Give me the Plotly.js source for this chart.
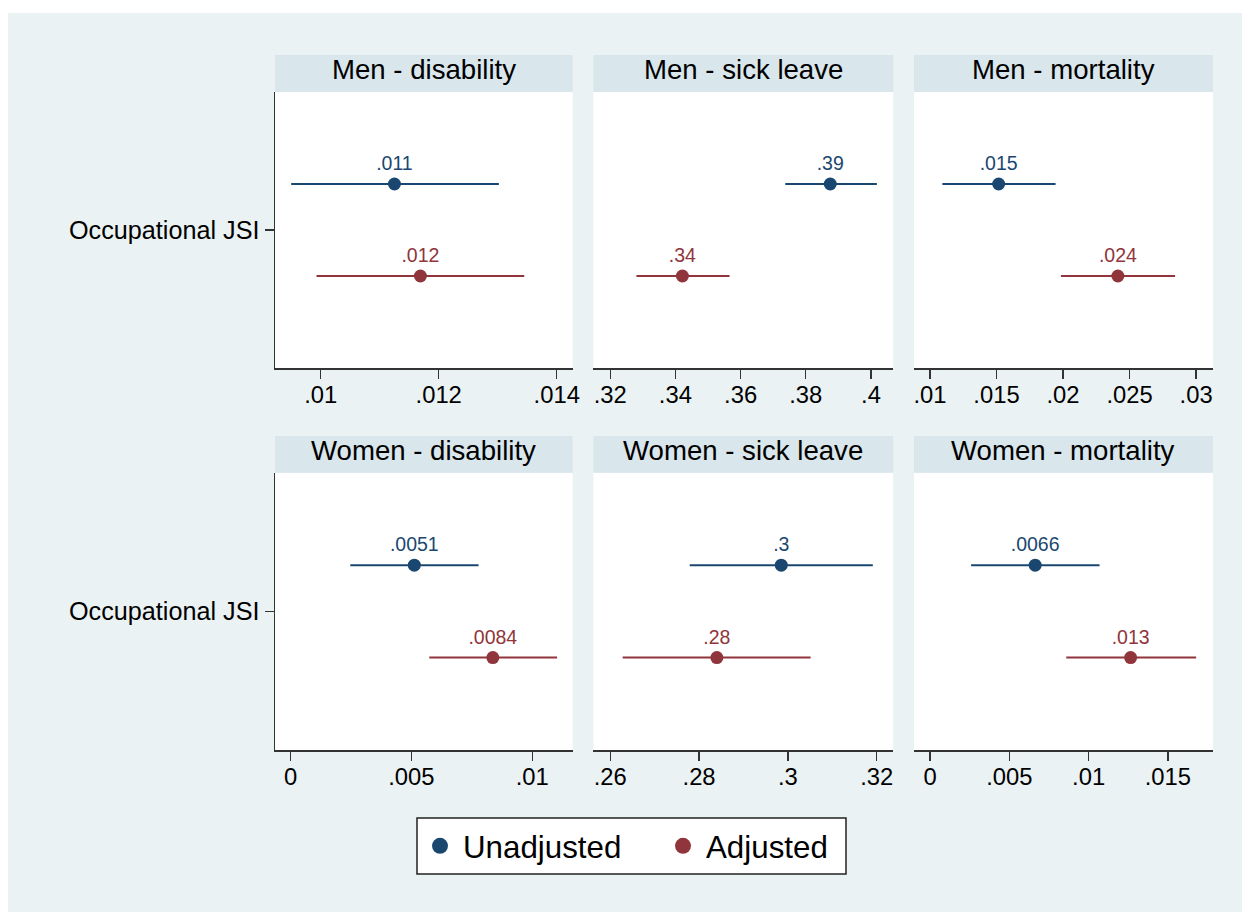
<!DOCTYPE html>
<html>
<head>
<meta charset="utf-8">
<script src="https://cdn.plot.ly/plotly-3.0.1.min.js"></script>
<style>
  html, body { margin: 0; padding: 0; background: #ffffff; }
  #chart { width: 1242px; height: 912px; }
</style>
</head>
<body>
<div id="chart"></div>
<script>
// ---------------- DATA ----------------
const panelTitles = ["Men - disability", "Men - sick leave", "Men - mortality",
                     "Women - disability", "Women - sick leave", "Women - mortality"];
const seriesNames = ["Unadjusted", "Adjusted"];
const rowLabel = "Occupational JSI";

const unadjEst   = [0.01125, 0.3875, 0.01516, 0.00512, 0.2985, 0.00663];
const unadjLo    = [0.00950, 0.3737, 0.01093, 0.00247, 0.2779, 0.00259];
const unadjHi    = [0.01302, 0.4018, 0.01944, 0.00778, 0.3191, 0.01069];
const unadjLabel = [".011", ".39", ".015", ".0051", ".3", ".0066"];

const adjEst   = [0.01169, 0.34215, 0.02412, 0.00837, 0.2840, 0.01265];
const adjLo    = [0.00993, 0.32804, 0.01984, 0.00574, 0.2628, 0.00859];
const adjHi    = [0.01345, 0.35660, 0.02842, 0.01103, 0.3051, 0.01678];
const adjLabel = [".012", ".34", ".024", ".0084", ".28", ".013"];

const tickVals = [
  [0.01, 0.012, 0.014],
  [0.32, 0.34, 0.36, 0.38, 0.4],
  [0.01, 0.015, 0.02, 0.025, 0.03],
  [0, 0.005, 0.01],
  [0.26, 0.28, 0.3, 0.32],
  [0, 0.005, 0.01, 0.015]
];
const tickText = [
  [".01", ".012", ".014"],
  [".32", ".34", ".36", ".38", ".4"],
  [".01", ".015", ".02", ".025", ".03"],
  ["0", ".005", ".01"],
  [".26", ".28", ".3", ".32"],
  ["0", ".005", ".01", ".015"]
];

// ---------------- LAYOUT / STYLE ----------------
const W = 1242, H = 912;
const xRanges = [[0.009226, 0.014269], [0.31485, 0.40681], [0.008797, 0.031263],
                 [-0.000646, 0.011672], [0.25622, 0.32369], [-0.001009, 0.017837]];
const colPx = [[275, 572.6], [593.4, 893.2], [914, 1212.9]];
const rowPx = [[92, 368], [472.7, 750]];
const stripPx = [[55, 92], [436, 472.7]];
const seriesY = [1, -1];           // vertical offsets of the two series around the row tick
const colors = ["#1a476f", "#90353b"];
const FONT = "Liberation Sans, Arial, Helvetica, sans-serif";
const axisCol = "#333333";

const px = v => v / W;
const py = v => 1 - v / H;

const series = [
  {est: unadjEst, lo: unadjLo, hi: unadjHi, lab: unadjLabel},
  {est: adjEst, lo: adjLo, hi: adjHi, lab: adjLabel}
];

const traces = [];
const layout = {
  width: W, height: H,
  margin: {l: 0, r: 0, t: 0, b: 0},
  paper_bgcolor: "#eaf2f3",
  plot_bgcolor: "#ffffff",
  font: {family: FONT, color: "#000000"},
  showlegend: true,
  legend: {
    orientation: "h",
    x: px(417), xanchor: "left",
    y: py(846), yanchor: "middle",
    bgcolor: "rgba(0,0,0,0)", borderwidth: 0,
    itemwidth: 36,
    font: {family: FONT, size: 31.3, color: "#000000"}
  },
  shapes: [
    {type: "rect", xref: "paper", yref: "paper", x0: 0, x1: px(8), y0: 0, y1: 1,
     fillcolor: "#ffffff", line: {width: 0}, layer: "below"},
    {type: "rect", xref: "paper", yref: "paper", x0: 0, x1: 1, y0: py(13), y1: 1,
     fillcolor: "#ffffff", line: {width: 0}, layer: "below"},
    {type: "rect", xref: "paper", yref: "paper", x0: px(417), x1: px(846), y0: py(874), y1: py(818),
     fillcolor: "#ffffff", line: {color: "#222222", width: 1.5}, layer: "below"}
  ],
  annotations: []
};

for (let p = 0; p < 6; p++) {
  const r = Math.floor(p / 3), c = p % 3;
  const id = p === 0 ? "" : String(p + 1);
  const xa = "xaxis" + id, ya = "yaxis" + id;

  layout[xa] = {
    domain: [px(colPx[c][0]), px(colPx[c][1])],
    anchor: "y" + id,
    range: xRanges[p],
    tickmode: "array", tickvals: tickVals[p], ticktext: tickText[p],
    showline: true, linecolor: axisCol, linewidth: 1.5,
    ticks: "outside", ticklen: 9, tickwidth: 1.3, tickcolor: axisCol,
    ticklabelstandoff: -4,
    showgrid: false, zeroline: false, fixedrange: true,
    tickfont: {family: FONT, size: 23.8, color: "#000000"}
  };
  layout[ya] = {
    domain: [py(rowPx[r][1]), py(rowPx[r][0])],
    anchor: "x" + id,
    range: [-3, 3],
    tickmode: "array", tickvals: [0], ticktext: [rowLabel],
    showticklabels: c === 0,
    showline: c === 0, linecolor: axisCol, linewidth: 1.5,
    ticks: c === 0 ? "outside" : "", ticklen: 9, tickwidth: 1.3, tickcolor: axisCol,
    showgrid: false, zeroline: false, fixedrange: true,
    tickfont: {family: FONT, size: 25.2, color: "#000000"}
  };

  // strip behind panel title
  layout.shapes.push({
    type: "rect", xref: "paper", yref: "paper",
    x0: px(colPx[c][0]), x1: px(colPx[c][1]),
    y0: py(stripPx[r][1]), y1: py(stripPx[r][0]),
    fillcolor: "#d9e6eb", line: {width: 0}, layer: "below"
  });
  layout.annotations.push({
    xref: "paper", yref: "paper",
    x: px((colPx[c][0] + colPx[c][1]) / 2), y: py((stripPx[r][0] + stripPx[r][1]) / 2 - 3.5),
    xanchor: "center", yanchor: "middle",
    text: panelTitles[p], showarrow: false,
    font: {family: FONT, size: 27.6, color: "#000000"}
  });

  series.forEach((s, k) => {
    traces.push({
      type: "scatter", mode: "markers+text",
      x: [s.est[p]], y: [seriesY[k]],
      xaxis: "x" + id, yaxis: "y" + id,
      text: [s.lab[p]], textposition: "top center",
      textfont: {family: FONT, size: 19.5, color: colors[k]},
      marker: {size: 13, color: colors[k], line: {width: 0}},
      error_x: {type: "data", symmetric: false,
                array: [s.hi[p] - s.est[p]], arrayminus: [s.est[p] - s.lo[p]],
                color: colors[k], thickness: 2, width: 0},
      showlegend: false, hoverinfo: "skip", cliponaxis: false
    });
  });
}

// legend entries
seriesNames.forEach((name, k) => {
  traces.push({
    type: "scatter", mode: "markers", name: name,
    x: [null], y: [null], xaxis: "x", yaxis: "y",
    marker: {size: 16, color: colors[k]},
    showlegend: true, hoverinfo: "skip",
    legendwidth: k === 0 ? 192 : undefined
  });
});

Plotly.newPlot("chart", traces, layout, {displayModeBar: false, staticPlot: true});
</script>
</body>
</html>
